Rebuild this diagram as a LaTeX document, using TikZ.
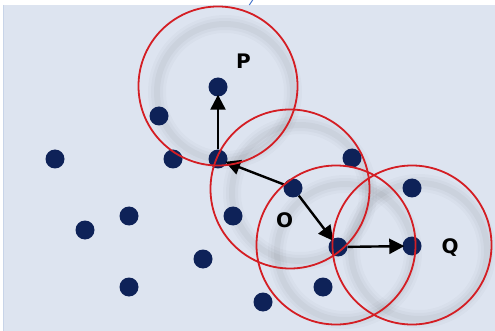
\documentclass[tikz,border=0pt]{standalone}
\usepackage{fontspec}
\setmainfont{Liberation Sans}
\newfontfamily\labelface{DejaVu Sans}
\usetikzlibrary{arrows.meta,calc}
\definecolor{panel}{RGB}{221,228,240}
\definecolor{panelrim}{RGB}{200,212,232}
\definecolor{dotblue}{RGB}{14,34,88}
\definecolor{ringred}{RGB}{212,30,36}
\definecolor{cutblue}{RGB}{60,110,200}
\newcommand{\tagfont}{\labelface\fontsize{20pt}{22pt}\selectfont\bfseries}
\tikzset{
  pt/.style={circle,fill=dotblue,inner sep=0pt,minimum size=19pt},
  ring/.style={circle,draw=ringred,line width=1.8pt,inner sep=0pt,minimum size=159pt},
  link/.style={draw=black,line width=2.4pt,-{Triangle[length=15pt,width=15pt]},shorten >=-2pt},
  tag/.style={font=\tagfont,text=black,inner sep=0pt}
}
\begin{document}
\begin{tikzpicture}[x=1pt,y=-1pt]
  \useasboundingbox (0,0) rectangle (495,331);
  \fill[white] (0,0) rectangle (495,331);
  \fill[panel] (3,5) rectangle (495,331);
  \draw[panelrim,line width=0.8pt] (3.4,5) -- (3.4,331);
  \draw[cutblue,line width=0.9pt] (252.7,0) -- (249.3,5);

  % soft halo under each neighbourhood circle
  \foreach \cx/\cy in {218/87, 293/188, 338/247, 412/246}{
    \foreach \w/\o in {18/0.02, 12/0.025, 6/0.03}
      \draw[black,line width=\w pt,opacity=\o] (\cx+7,\cy+5) circle (68);
  }

  % data points
  \node[pt] (P) at (218,87) {};
  \node[pt] (a1) at (159,116) {};
  \node[pt] (a2) at (55,159) {};
  \node[pt] (a3) at (173,159) {};
  \node[pt] (J) at (218,159) {};
  \node[pt] (a4) at (352,158) {};
  \node[pt] (O) at (293,188) {};
  \node[pt] (a5) at (412,188) {};
  \node[pt] (a6) at (129,216) {};
  \node[pt] (a7) at (233,216) {};
  \node[pt] (a8) at (85,230) {};
  \node[pt] (K) at (338,247) {};
  \node[pt] (Q) at (412,246) {};
  \node[pt] (a9) at (203,259) {};
  \node[pt] (a10) at (129,287) {};
  \node[pt] (a11) at (323,287) {};
  \node[pt] (a12) at (263,302) {};

  % density-reachability chain
  \draw[link] (J) -- (P);
  \draw[link] (O) -- (J);
  \draw[link] (O) -- (K);
  \draw[link] (K) -- (Q);

  % eps-neighbourhoods
  \node[ring] (r1) at (218,86) {};
  \node[ring] (r2) at (290,189) {};
  \node[ring] (r3) at (336,245) {};
  \node[ring] (r4) at (412,245) {};

  % labels
  \node[tag] (lP) at (243.5,61.5) {P};
  \node[tag] (lO) at (284.5,220.5) {O};
  \node[tag] (lQ) at (450,248) {Q};
\end{tikzpicture}
\end{document}
